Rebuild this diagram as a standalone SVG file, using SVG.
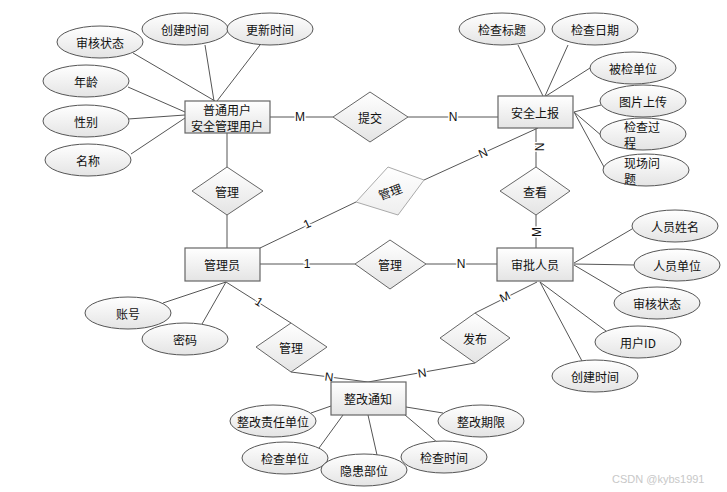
<svg xmlns="http://www.w3.org/2000/svg" width="727" height="492" viewBox="0 0 727 492">
<defs>
<linearGradient id="g" x1="0" y1="0" x2="0" y2="1">
<stop offset="0" stop-color="#ffffff"/>
<stop offset="1" stop-color="#e4e4e4"/>
</linearGradient>
<linearGradient id="gl" x1="0" y1="0" x2="0" y2="1">
<stop offset="0" stop-color="#ffffff"/>
<stop offset="1" stop-color="#eeeeee"/>
</linearGradient>
</defs>
<style>
.e{fill:url(#g);stroke:#555;stroke-width:1}
.r{fill:url(#g);stroke:#666;stroke-width:1.2}
.d{fill:url(#g);stroke:#666;stroke-width:1}
.dl{fill:url(#gl);stroke:#aaa;stroke-width:1}
.l{stroke:#555;stroke-width:1;fill:none}
text{font-family:"Noto Sans CJK SC","Liberation Sans",sans-serif;font-size:12px;fill:#111;text-anchor:middle;dominant-baseline:central}
.lb{font-family:"Liberation Sans","Noto Sans",sans-serif;font-size:12px;paint-order:stroke;stroke:#fff;stroke-width:3}
.wm{font-family:"Liberation Sans",sans-serif;font-size:11px;fill:#c8c8c8;text-anchor:start}
</style>
<rect width="727" height="492" fill="#fff"/>
<g id="connectors">
<line class="l" x1="133" y1="53" x2="215" y2="101"/>
<line class="l" x1="205" y1="45" x2="214" y2="101"/>
<line class="l" x1="260" y1="45" x2="217" y2="101"/>
<line class="l" x1="128" y1="87" x2="185" y2="112"/>
<line class="l" x1="128" y1="119" x2="185" y2="115"/>
<line class="l" x1="131" y1="154" x2="185" y2="118"/>
<line class="l" x1="270" y1="117" x2="333" y2="117"/>
<line class="l" x1="408" y1="117" x2="498" y2="117"/>
<line class="l" x1="518" y1="45" x2="543" y2="96"/>
<line class="l" x1="568" y1="45" x2="545" y2="96"/>
<line class="l" x1="590" y1="68" x2="546" y2="96"/>
<line class="l" x1="601" y1="105" x2="574" y2="112"/>
<line class="l" x1="602" y1="136" x2="574" y2="112"/>
<line class="l" x1="604" y1="167" x2="574" y2="112"/>
<line class="l" x1="227" y1="133" x2="227" y2="167"/>
<line class="l" x1="227" y1="215" x2="227" y2="248"/>
<line class="l" x1="260" y1="248" x2="356" y2="202"/>
<line class="l" x1="424" y1="180" x2="538" y2="128"/>
<line class="l" x1="536" y1="128" x2="536" y2="167"/>
<line class="l" x1="536" y1="215" x2="536" y2="248"/>
<line class="l" x1="260" y1="264" x2="355" y2="264"/>
<line class="l" x1="426" y1="264" x2="497" y2="264"/>
<line class="l" x1="574" y1="263" x2="632" y2="229"/>
<line class="l" x1="574" y1="264" x2="635" y2="265"/>
<line class="l" x1="574" y1="265" x2="623" y2="294"/>
<line class="l" x1="540" y1="282" x2="606" y2="331"/>
<line class="l" x1="540" y1="282" x2="582" y2="361"/>
<line class="l" x1="537" y1="282" x2="475" y2="313"/>
<line class="l" x1="475" y1="363" x2="368" y2="382"/>
<line class="l" x1="226" y1="282" x2="163" y2="303"/>
<line class="l" x1="226" y1="282" x2="202" y2="324"/>
<line class="l" x1="226" y1="282" x2="291" y2="323"/>
<line class="l" x1="291" y1="372" x2="368" y2="382"/>
<line class="l" x1="311" y1="413" x2="331" y2="406"/>
<line class="l" x1="319" y1="448" x2="343" y2="415"/>
<line class="l" x1="377" y1="455" x2="368" y2="415"/>
<line class="l" x1="406" y1="407" x2="443" y2="413"/>
<line class="l" x1="405" y1="415" x2="438" y2="443"/>
<text class="lb" x="300" y="117">M</text>
<text class="lb" x="453" y="117">N</text>
<text class="lb" x="307" y="224" transform="rotate(-25 307 224)">1</text>
<text class="lb" x="483" y="153" transform="rotate(-24 483 153)">N</text>
<text class="lb" x="540" y="147" transform="rotate(-90 540 147)">N</text>
<text class="lb" x="537" y="232" transform="rotate(-90 537 232)">M</text>
<text class="lb" x="307" y="264">1</text>
<text class="lb" x="461" y="264">N</text>
<text class="lb" x="505" y="297" transform="rotate(-27 505 297)">M</text>
<text class="lb" x="422" y="373" transform="rotate(-10 422 373)">N</text>
<text class="lb" x="259" y="302" transform="rotate(32 259 302)">1</text>
<text class="lb" x="329" y="377" transform="rotate(7 329 377)">N</text>
</g>
<g id="user"><rect class="r" x="185" y="101" width="85" height="32"/><text x="227" y="109">普通用户</text><text x="227" y="125">安全管理用户</text></g>
<g id="report"><rect class="r" x="498" y="96" width="75" height="32"/><text x="535" y="112">安全上报</text></g>
<g id="admin"><rect class="r" x="185" y="248" width="75" height="33"/><text x="222" y="264">管理员</text></g>
<g id="approver"><rect class="r" x="497" y="248" width="76" height="33"/><text x="535" y="264">审批人员</text></g>
<g id="notice"><rect class="r" x="331" y="382" width="75" height="33"/><text x="368" y="398">整改通知</text></g>
<g id="rel-submit"><polygon class="d" points="370,92 408,117 370,142 333,117"/><text x="370" y="117">提交</text></g>
<g id="rel-manage1"><polygon class="d" points="227,167 263,191 227,215 192,191"/><text x="227" y="191">管理</text></g>
<g id="rel-manage2"><polygon class="dl" points="388,167 424,180 398,215 356,202"/><text x="390" y="191" transform="rotate(-20 390 191)">管理</text></g>
<g id="rel-view"><polygon class="d" points="536,167 570,191 536,215 500,191"/><text x="535" y="191">查看</text></g>
<g id="rel-manage3"><polygon class="d" points="390,240 426,264 390,289 355,264"/><text x="390" y="264">管理</text></g>
<g id="rel-manage4"><polygon class="d" points="291,323 327,347 291,372 256,347"/><text x="291" y="347">管理</text></g>
<g id="rel-publish"><polygon class="d" points="475,313 510,338 475,363 440,338"/><text x="475" y="338">发布</text></g>
<g id="a-status1"><ellipse class="e" cx="100" cy="42" rx="43" ry="16"/><text x="100" y="42">审核状态</text></g>
<g id="a-created1"><ellipse class="e" cx="185" cy="29" rx="43" ry="16"/><text x="185" y="29">创建时间</text></g>
<g id="a-updated"><ellipse class="e" cx="270" cy="29" rx="43" ry="16"/><text x="270" y="29">更新时间</text></g>
<g id="a-age"><ellipse class="e" cx="86" cy="81" rx="43" ry="16"/><text x="86" y="81">年龄</text></g>
<g id="a-gender"><ellipse class="e" cx="86" cy="121" rx="43" ry="16"/><text x="86" y="121">性别</text></g>
<g id="a-name"><ellipse class="e" cx="88" cy="160" rx="43" ry="16"/><text x="88" y="160">名称</text></g>
<g id="a-title"><ellipse class="e" cx="502" cy="29" rx="43" ry="16"/><text x="502" y="29">检查标题</text></g>
<g id="a-date"><ellipse class="e" cx="595" cy="29" rx="43" ry="16"/><text x="595" y="29">检查日期</text></g>
<g id="a-unit"><ellipse class="e" cx="633" cy="68" rx="43" ry="16"/><text x="633" y="68">被检单位</text></g>
<g id="a-pic"><ellipse class="e" cx="643" cy="101" rx="43" ry="16"/><text x="643" y="101">图片上传</text></g>
<g id="a-process"><ellipse class="e" cx="643" cy="134" rx="43" ry="16"/><text x="624" y="126" style="text-anchor:start">检查过</text><text x="624" y="142" style="text-anchor:start">程</text></g>
<g id="a-issue"><ellipse class="e" cx="646" cy="170" rx="43" ry="16"/><text x="624" y="162" style="text-anchor:start">现场问</text><text x="624" y="178" style="text-anchor:start">题</text></g>
<g id="a-pname"><ellipse class="e" cx="675" cy="226" rx="43" ry="16"/><text x="675" y="226">人员姓名</text></g>
<g id="a-punit"><ellipse class="e" cx="677" cy="265" rx="43" ry="16"/><text x="677" y="265">人员单位</text></g>
<g id="a-status2"><ellipse class="e" cx="657" cy="303" rx="43" ry="16"/><text x="657" y="303">审核状态</text></g>
<g id="a-uid"><ellipse class="e" cx="638" cy="342" rx="43" ry="16"/><text x="638" y="342">用户ID</text></g>
<g id="a-created2"><ellipse class="e" cx="595" cy="376" rx="43" ry="16"/><text x="595" y="376">创建时间</text></g>
<g id="a-account"><ellipse class="e" cx="128" cy="313" rx="43" ry="16"/><text x="128" y="313">账号</text></g>
<g id="a-pwd"><ellipse class="e" cx="185" cy="339" rx="43" ry="16"/><text x="185" y="339">密码</text></g>
<g id="a-resp"><ellipse class="e" cx="273" cy="421" rx="43" ry="16"/><text x="273" y="421">整改责任单位</text></g>
<g id="a-cunit"><ellipse class="e" cx="285" cy="458" rx="43" ry="16"/><text x="285" y="458">检查单位</text></g>
<g id="a-hazard"><ellipse class="e" cx="364" cy="470" rx="43" ry="16"/><text x="364" y="470">隐患部位</text></g>
<g id="a-deadline"><ellipse class="e" cx="481" cy="421" rx="43" ry="16"/><text x="481" y="421">整改期限</text></g>
<g id="a-ctime"><ellipse class="e" cx="444" cy="457" rx="43" ry="16"/><text x="444" y="457">检查时间</text></g>
<text class="wm" x="612" y="479">CSDN @kybs1991</text>
</svg>
